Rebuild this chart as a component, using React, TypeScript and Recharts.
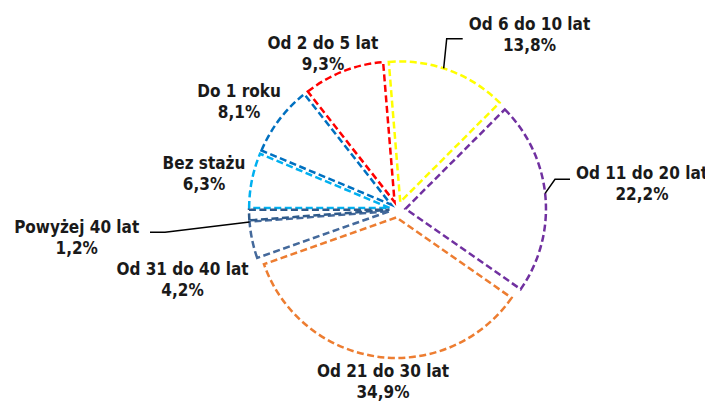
import React from 'react';
import { PieChart, Pie, Cell, Sector } from 'recharts';

// Staff by length of service
const categories = [
  'Bez stażu',
  'Do 1 roku',
  'Od 2 do 5 lat',
  'Od 6 do 10 lat',
  'Od 11 do 20 lat',
  'Od 21 do 30 lat',
  'Od 31 do 40 lat',
  'Powyżej 40 lat',
];
const shares = [6.3, 8.1, 9.3, 13.8, 22.2, 34.9, 4.2, 1.2];
const strokeColors = [
  '#00B0F0',
  '#0070C0',
  '#FF0000',
  '#FFFF00',
  '#7030A0',
  '#ED7D31',
  '#44699B',
  '#2F5A8A',
];

// Label placement relative to the pie centre: [dx, dy of first baseline]
const labelOffsets: [number, number][] = [
  [-193.5, -40.5],
  [-158.5, -112.2],
  [-74.5, -160.5],
  [132, -180],
  [244.5, -30.2],
  [-14.5, 167.5],
  [-215, 65.5],
  [-320.8, 23.8],
];

// Leader lines: start and elbow (relative to centre) and the arc angle they reach (deg, clockwise from 12 o'clock)
const leaders: Record<number, { from: [number, number]; corner: [number, number]; angle: number }> = {
  3: { from: [65.2, -170.8], corner: [49.2, -170.8], angle: 18 },
  4: { from: [172.5, -30.2], corner: [157.5, -30.2], angle: 83.7 },
  7: { from: [-247.5, 22.8], corner: [-232.5, 22.8], angle: 265 },
};

const data = categories.map((name, i) => ({ name, value: shares[i] }));

const WIDTH = 705;
const HEIGHT = 393;
const CX = 389.5;
const CY = 201.5;
const RADIUS = 140.5;
const EXPLODE = 8;
const RAD = Math.PI / 180;
const FONT = "'DejaVu Sans Condensed', 'DejaVu Sans', sans-serif";
const LINE_GAP = 21;

const sliceShift = (midAngle: number) => ({
  dx: EXPLODE * Math.cos(-midAngle * RAD),
  dy: EXPLODE * Math.sin(-midAngle * RAD),
});

function ExplodedSlice(props: any) {
  const { cx, cy, startAngle, endAngle } = props;
  const mid = props.midAngle ?? (startAngle + endAngle) / 2;
  const { dx, dy } = sliceShift(mid);
  return (
    <Sector
      {...props}
      cx={cx + dx}
      cy={cy + dy}
      fill="#ffffff"
      strokeWidth={2.5}
      strokeDasharray="7 3.5"
    />
  );
}

const fmt = (v: number) => `${v.toFixed(1).replace('.', ',')}%`;

function renderLabel(props: any) {
  const { cx, cy, index, startAngle, endAngle } = props;
  const mid = props.midAngle ?? (startAngle + endAngle) / 2;
  const [ox, oy] = labelOffsets[index];
  const x = cx + ox;
  const y = cy + oy;
  const leader = leaders[index];
  let line = null;
  if (leader) {
    const { dx, dy } = sliceShift(mid);
    const a = (90 - leader.angle) * RAD;
    const ex = cx + dx + RADIUS * Math.cos(a);
    const ey = cy + dy - RADIUS * Math.sin(a);
    const pts = `${cx + leader.from[0]},${cy + leader.from[1]} ${cx + leader.corner[0]},${cy + leader.corner[1]} ${ex},${ey}`;
    line = <polyline points={pts} fill="none" stroke="#000000" strokeWidth={1.5} />;
  }
  return (
    <g key={`label-${index}`}>
      {line}
      <text
        x={x}
        y={y}
        textAnchor="middle"
        fontFamily={FONT}
        fontWeight="bold"
        fontSize={17}
        fill="#1a1a1a"
      >
        {categories[index]}
      </text>
      <text
        x={x}
        y={y + LINE_GAP}
        textAnchor="middle"
        fontFamily={FONT}
        fontWeight="bold"
        fontSize={17}
        fill="#1a1a1a"
      >
        {fmt(shares[index])}
      </text>
    </g>
  );
}

export default function App() {
  const pieProps: any = {
    shape: ExplodedSlice,
    activeShape: ExplodedSlice,
    inactiveShape: ExplodedSlice,
  };
  return (
    <div style={{ width: WIDTH, height: HEIGHT, background: '#ffffff' }}>
      <PieChart width={WIDTH} height={HEIGHT} margin={{ top: 0, right: 0, bottom: 0, left: 0 }}>
        <Pie
          data={data}
          dataKey="value"
          nameKey="name"
          cx={CX}
          cy={CY}
          outerRadius={RADIUS}
          startAngle={180}
          endAngle={-180}
          isAnimationActive={false}
          label={renderLabel}
          labelLine={false}
          {...pieProps}
        >
          {data.map((d, i) => (
            <Cell key={d.name} stroke={strokeColors[i]} fill="#ffffff" />
          ))}
        </Pie>
      </PieChart>
    </div>
  );
}
